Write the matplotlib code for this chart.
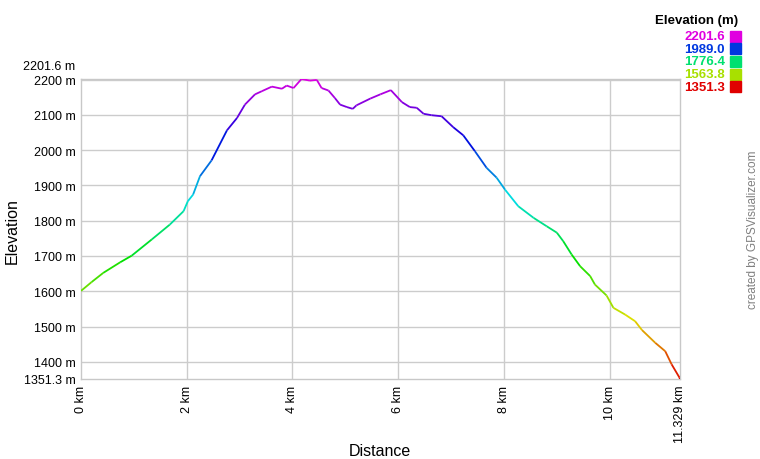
import numpy as np
import matplotlib
matplotlib.use("Agg")
import matplotlib.pyplot as plt
from matplotlib.collections import LineCollection
from matplotlib.colors import hsv_to_rgb

plt.rcParams["font.family"] = ["Liberation Sans", "DejaVu Sans"]

# profile (km, m)
distance_km = [
    0, 0.2, 0.42, 0.74, 0.96, 1.34, 1.68, 1.94, 2.02, 2.12, 2.25, 2.47, 2.76, 2.95,
    3.10, 3.29, 3.42, 3.61, 3.80, 3.89, 4.02, 4.17, 4.33, 4.46, 4.55, 4.68, 4.80,
    4.90, 5.03, 5.14, 5.21, 5.47, 5.66, 5.86, 6.07, 6.22, 6.35, 6.48, 6.63, 6.82,
    7.04, 7.23, 7.45, 7.67, 7.86, 8.02, 8.27, 8.56, 8.81, 9.00, 9.12, 9.28, 9.44,
    9.63, 9.72, 9.94, 10.07, 10.29, 10.48, 10.61, 10.86, 11.05, 11.17, 11.32, 11.329,
]
elevation_m = [
    1601, 1626, 1652, 1682, 1701, 1747, 1789, 1827, 1855, 1874, 1926, 1971, 2056, 2091,
    2129, 2158, 2167, 2180, 2174, 2183, 2176, 2201.6, 2197, 2199, 2176, 2169, 2148,
    2129, 2122, 2117, 2127, 2146, 2158, 2170, 2136, 2122, 2120, 2103, 2099, 2096,
    2065, 2042, 1997, 1950, 1922, 1888, 1841, 1808, 1784, 1766, 1742, 1704, 1671,
    1643, 1619, 1588, 1553, 1534, 1515, 1490, 1454, 1430, 1393, 1355, 1351.3,
]

elev_min = 1351.3
elev_max = 2201.6
total_km = 11.329
y_ticks = [1400, 1500, 1600, 1700, 1800, 1900, 2000, 2100, 2200]
x_ticks = [0, 2, 4, 6, 8, 10]
legend_values = [2201.6, 1989.0, 1776.4, 1563.8, 1351.3]


def elev_color(v):
    frac = (v - elev_min) / (elev_max - elev_min)
    return hsv_to_rgb((frac * 300 / 360, 1.0, 0.88))


fig = plt.figure(figsize=(7.6, 4.6), dpi=100)
ax = fig.add_axes([81 / 760, 1 - 380 / 460, 599 / 760, 300 / 460])

x = np.array(distance_km)
y = np.array(elevation_m)
pts = np.column_stack([x, y]).reshape(-1, 1, 2)
segs = np.concatenate([pts[:-1], pts[1:]], axis=1)
cols = [elev_color((a + b) / 2) for a, b in zip(y[:-1], y[1:])]
ax.add_collection(LineCollection(segs, colors=cols, linewidths=1.3, zorder=3))

ax.set_xlim(0, total_km)
ax.set_ylim(elev_min, elev_max)

ax.set_yticks(y_ticks + [elev_min])
ax.set_yticklabels([f"{t} m" for t in y_ticks] + [f"{elev_min} m"])
ax.set_xticks(x_ticks + [total_km])
ax.set_xticklabels([f"{t} km" for t in x_ticks] + [f"{total_km} km"], rotation=90)
ax.tick_params(length=0, labelsize=9, pad=4, colors="black")
ax.annotate(f"{elev_max} m", xy=(0, elev_max), xycoords=("axes fraction", "data"),
            xytext=(-4, 9), textcoords="offset points", ha="right", va="center",
            fontsize=9)

for t in y_ticks:
    ax.axhline(t, color="#cccccc", lw=1.0, zorder=1)
for t in x_ticks[1:]:
    ax.axvline(t, color="#cccccc", lw=1.0, zorder=1)
for s in ax.spines.values():
    s.set_color("#c8c8c8")
    s.set_linewidth(1.0)

fig.text(12 / 760, 1 - 231 / 460, "Elevation", rotation=90, ha="center", va="center",
         fontsize=11.5)
fig.text(380 / 760, 1 - 452 / 460, "Distance", ha="center", va="center", fontsize=11.5)

# legend on the top right
fig.text(738 / 760, 1 - 21 / 460, "Elevation (m)", ha="right", va="center",
         fontsize=9.5, fontweight="bold")
for i, v in enumerate(legend_values):
    yy = 1 - (37 + 12.7 * i) / 460
    c = elev_color(v)
    fig.text(725 / 760, yy, f"{v:.1f}", ha="right", va="center", fontsize=9.5,
             fontweight="bold", color=c)
    fig.patches.append(plt.Rectangle((730 / 760, yy - 5.5 / 460), 11 / 760, 11 / 460,
                                     transform=fig.transFigure, color=c, figure=fig))

fig.text(753 / 760, 1 - 230 / 460, "created by GPSVisualizer.com", rotation=90,
         ha="center", va="center", fontsize=8.5, color="#808080")

fig.savefig("out.png", dpi=100)
